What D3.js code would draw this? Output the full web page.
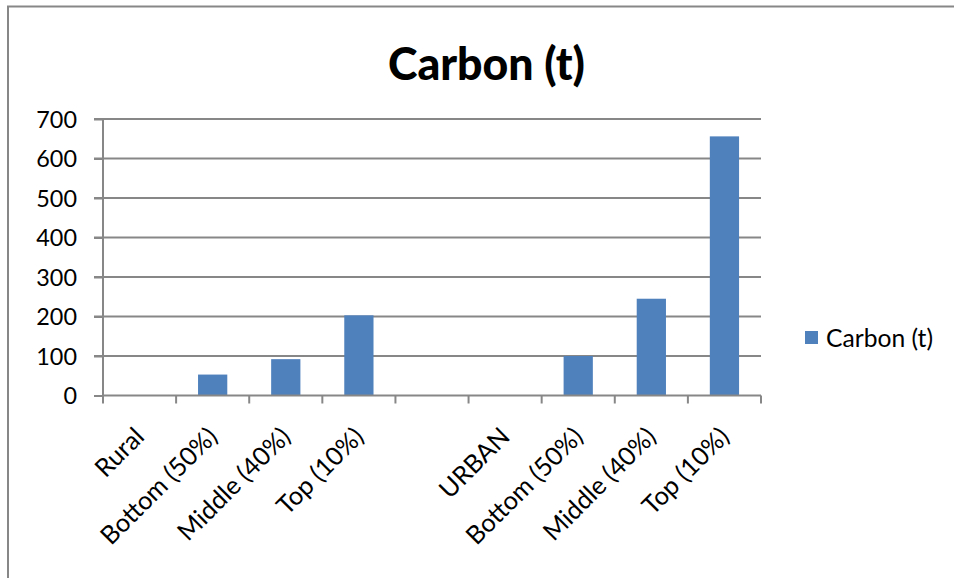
<!DOCTYPE html>
<html><head><meta charset="utf-8">
<script src="https://cdn.jsdelivr.net/npm/d3@7"></script>
<style>html,body{margin:0;padding:0;background:#fff;overflow:hidden}</style>
</head><body>
<svg id="chart" width="954" height="578"></svg>
<script>
const categories = ["Rural","Bottom (50%)","Middle (40%)","Top (10%)","","URBAN","Bottom (50%)","Middle (40%)","Top (10%)"];
const values = [null, 53, 92, 203, null, null, 100, 245, 656];
const yTicks = [0,100,200,300,400,500,600,700];
const seriesName = "Carbon (t)";
const title = "Carbon (t)";

const svg = d3.select("#chart");
const font = "Lato, 'Open Sans', sans-serif";
const gray = "#878787";
const barColor = "#4F81BD";

// outer frame
svg.append("rect").attr("x",8).attr("y",6.5).attr("width",1100).attr("height",1100)
  .attr("fill","#fff").attr("stroke",gray).attr("stroke-width",2);

const plot = {left:103, right:761, top:119, bottom:395.5};
const x = d3.scaleBand().domain(d3.range(categories.length)).range([plot.left, plot.right]).paddingInner(0).paddingOuter(0);
const y = d3.scaleLinear().domain([0,700]).range([plot.bottom, plot.top]);

function fit(sel, target, base){
  sel.attr("font-size", base);
  const w = sel.node().getComputedTextLength();
  const s = base*target/w;
  sel.attr("font-size", s);
  return s;
}

// title
svg.append("text").attr("x",388).attr("y",80)
  .attr("font-family",font).attr("font-weight","900").attr("font-size",45)
  .attr("textLength",197).attr("lengthAdjust","spacingAndGlyphs")
  .attr("fill","#000").text(title);

// legend
const lt = svg.append("text").attr("x",826).attr("y",338).attr("dy","0.35em")
  .attr("font-family",font).attr("fill","#000").text(seriesName);
const fs = fit(lt, 107, 24);
svg.append("rect").attr("x",805).attr("y",331).attr("width",13).attr("height",13).attr("fill",barColor);

// gridlines
svg.append("g").selectAll("line").data(yTicks.filter(d=>d>0)).join("line")
  .attr("x1",plot.left-9).attr("x2",plot.right).attr("y1",d=>y(d)).attr("y2",d=>y(d))
  .attr("stroke",gray).attr("stroke-width",2);

// y axis
const ya = svg.append("g").attr("transform",`translate(${plot.left},0)`)
  .call(d3.axisLeft(y).tickValues(yTicks).tickSize(9).tickPadding(17).tickFormat(d3.format("d")));
ya.select(".domain").attr("stroke",gray).attr("stroke-width",2).attr("d",`M-9,${plot.top}H0V${plot.bottom}`);
ya.selectAll(".tick line").attr("stroke",gray).attr("stroke-width",2);
ya.selectAll(".tick text").attr("font-family",font).attr("font-size",fs*0.95).attr("fill","#000").attr("dy","0.35em");
ya.selectAll(".tick text").attr("x",-26);

// bars
svg.append("g").selectAll("rect").data(values.map((v,i)=>({v,i})).filter(d=>d.v!=null)).join("rect")
  .attr("x",d=>x(d.i)+x.bandwidth()*0.3).attr("width",x.bandwidth()*0.4)
  .attr("y",d=>y(d.v)).attr("height",d=>y(0)-y(d.v)).attr("fill",barColor);

// x axis
const xa = svg.append("g");
xa.append("line").attr("x1",plot.left).attr("x2",plot.right).attr("y1",plot.bottom).attr("y2",plot.bottom)
  .attr("stroke",gray).attr("stroke-width",2);
const bounds = d3.range(categories.length+1).map(i=> i<categories.length ? x(i) : x(i-1)+x.bandwidth());
xa.selectAll(".tk").data(bounds).join("line").attr("class","tk")
  .attr("x1",d=>d).attr("x2",d=>d).attr("y1",plot.bottom).attr("y2",plot.bottom+8)
  .attr("stroke",gray).attr("stroke-width",2);
xa.selectAll(".lbl").data(categories.map((c,i)=>({c,i}))).join("text").attr("class","lbl")
  .attr("transform",d=>`translate(${x(d.i)+x.bandwidth()/2},432) rotate(-45)`)
  .attr("text-anchor","end").attr("dy","0.35em")
  .attr("font-family",font).attr("font-size",fs*1.03).attr("fill","#000").text(d=>d.c);
</script>
</body></html>
